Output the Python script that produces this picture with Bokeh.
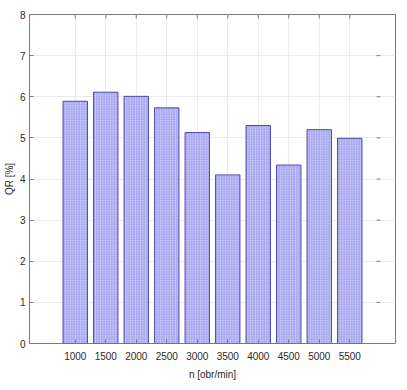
from bokeh.plotting import figure
from bokeh.models import FactorRange, Range1d, FixedTicker
from bokeh.embed import file_html
from bokeh.resources import INLINE

categories = ["1000", "1500", "2000", "2500", "3000", "3500", "4000", "4500", "5000", "5500"]
values = [5.89, 6.11, 6.01, 5.73, 5.13, 4.10, 5.30, 4.34, 5.20, 4.99]
y_ticks = [0, 1, 2, 3, 4, 5, 6, 7, 8]

FONT = "Liberation Sans"
AX = "#7a7a7a"
TXT = "#2a2a2a"

W, H = 399, 382
BL, BR, BT, BB = 29, 4, 14, 35
FRAME_W = W - BL - BR
FRAME_H = H - BT - BB
TICK = 4
PAD = 1.0

p = figure(width=W, height=H, output_backend="svg", toolbar_location=None,
           x_range=FactorRange(*categories, range_padding=PAD, range_padding_units="absolute"),
           y_range=Range1d(0, 8),
           min_border_left=BL, min_border_right=BR, min_border_top=BT, min_border_bottom=BB)
p.extra_y_ranges = {"px": Range1d(0, FRAME_H)}

# synthetic x-coordinates of the frame edges
x_start = -PAD / 2
x_end = len(categories) + PAD / 2
units_per_px = (x_end - x_start) / FRAME_W

p.vbar(x=categories, top=values, width=0.8, bottom=0,
       fill_color="#d0d0fb", line_color="#4a4aa8", line_width=1,
       hatch_pattern="right_diagonal_line", hatch_color="#a4a4ee",
       hatch_scale=2.5, hatch_weight=1)

# inner ticks on the top and right edges of the frame
p.segment(x0=categories, x1=categories, y0=FRAME_H - TICK, y1=FRAME_H,
          y_range_name="px", line_color=AX, line_width=1)
p.segment(x0=x_end - TICK * units_per_px, x1=x_end, y0=y_ticks, y1=y_ticks,
          line_color=AX, line_width=1)

p.outline_line_color = AX
p.outline_line_width = 1
p.background_fill_color = "white"
p.border_fill_color = "white"

p.xgrid.grid_line_color = "#ebebeb"
p.ygrid.grid_line_color = "#ebebeb"
p.ygrid.ticker = FixedTicker(ticks=y_ticks)

p.yaxis.ticker = FixedTicker(ticks=y_ticks)
for ax in (p.xaxis[0], p.yaxis[0]):
    ax.axis_line_color = None
    ax.major_tick_line_color = AX
    ax.major_tick_in = TICK
    ax.major_tick_out = 0
    ax.minor_tick_line_color = None
    ax.major_label_text_font = FONT
    ax.major_label_text_font_size = "10px"
    ax.major_label_text_color = TXT
    ax.major_label_text_font_style = "normal"
    ax.axis_label_text_font = FONT
    ax.axis_label_text_font_size = "10px"
    ax.axis_label_text_font_style = "normal"
    ax.axis_label_text_color = TXT
p.yaxis.major_label_standoff = 4
p.xaxis.major_label_standoff = 8
p.xaxis.axis_label = "n [obr/min]"
p.xaxis.axis_label_standoff = 6
p.yaxis.axis_label = "QR [%]"
p.yaxis.axis_label_standoff = 2

with open("out.html", "w") as f:
    f.write(file_html(p, INLINE))
